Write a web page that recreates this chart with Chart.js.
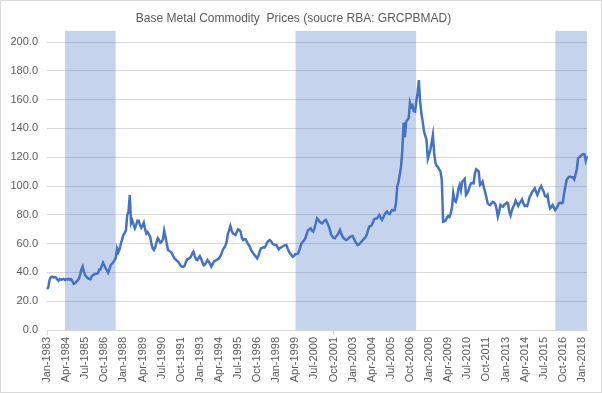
<!DOCTYPE html>
<html>
<head>
<meta charset="utf-8">
<script src="https://cdn.jsdelivr.net/npm/chart.js@4"></script>
<style>
  html, body { margin: 0; padding: 0; background: #fff; }
  #wrap { position: relative; width: 602px; height: 393px; }
  #frame { position: absolute; left: 0; top: 0; width: 600px; height: 391px; border: 1px solid #D9D9D9; pointer-events: none; }
</style>
</head>
<body>
<div id="wrap">
  <canvas id="metalChart" width="602" height="393"></canvas>
  <div id="frame"></div>
</div>
<script>
// Serie mensile, da Jan-1983 a May-2018
const startYear = 1983;
const monthNames = ['Jan', 'Feb', 'Mar', 'Apr', 'May', 'Jun', 'Jul', 'Aug', 'Sep', 'Oct', 'Nov', 'Dec'];

const prices = [
  28.5, 29.5, 34.7, 36.6, 37.0, 36.5, 36.8, 36.4, 35.2, 34.2, 35.4, 35.0,   // 1983
  35.2, 35.5, 34.8, 35.3, 35.0, 35.6, 34.9, 35.2, 33.8, 32.0, 32.4, 33.5,   // 1984
  34.2, 35.5, 38.5, 42.0, 44.0, 40.5, 38.0, 37.0, 36.0, 35.5, 35.2, 37.0,   // 1985
  38.0, 38.5, 39.0, 39.0, 39.5, 42.0, 42.0, 44.5, 46.8, 45.0, 43.0, 41.5,   // 1986
  39.8, 42.0, 45.0, 46.0, 47.0, 48.6, 50.0, 56.7, 54.0, 56.0, 60.0, 63.0,   // 1987
  66.0, 67.5, 69.4, 79.8, 82.0, 93.8, 74.0, 76.0, 73.0, 70.6, 73.0, 75.9,   // 1988
  75.9, 73.0, 71.0, 72.5, 74.5, 70.0, 67.0, 68.0, 66.5, 64.8, 60.0, 56.7,   // 1989
  55.6, 57.5, 61.0, 63.7, 62.5, 60.6, 61.3, 63.0, 69.0, 65.0, 60.0, 55.6,   // 1990
  55.0, 54.4, 53.5, 51.5, 50.0, 49.0, 48.0, 47.5, 46.0, 44.5, 44.0, 44.0,   // 1991
  44.5, 47.0, 49.0, 49.5, 49.8, 51.0, 53.0, 54.4, 51.5, 49.0, 48.5, 50.0,   // 1992
  51.3, 49.5, 47.0, 45.0, 45.5, 47.0, 48.6, 47.5, 46.0, 44.0, 45.5, 47.5,   // 1993
  48.0, 48.5, 49.0, 49.8, 51.0, 53.0, 55.6, 57.0, 58.3, 61.0, 67.0, 69.0,   // 1994
  72.2, 69.0, 67.0, 66.5, 66.0, 68.0, 70.0, 69.5, 68.4, 64.0, 62.5, 63.0,   // 1995
  63.0, 61.0, 59.5, 58.3, 56.0, 54.5, 53.2, 52.0, 51.0, 49.8, 51.5, 54.5,   // 1996
  56.7, 57.0, 57.5, 57.4, 59.0, 61.0, 62.0, 62.5, 61.5, 60.0, 59.5, 59.0,   // 1997
  59.0, 57.5, 56.0, 57.0, 57.4, 58.0, 58.5, 59.0, 59.0, 56.5, 54.4, 53.0,   // 1998
  52.0, 50.9, 51.5, 52.8, 52.8, 53.0, 55.0, 58.0, 60.5, 61.3, 62.5, 64.0,   // 1999
  67.0, 69.4, 70.0, 70.6, 69.0, 68.4, 70.6, 74.0, 77.5, 76.5, 75.3, 74.5,   // 2000
  74.0, 75.0, 76.0, 76.4, 74.5, 72.5, 70.0, 66.5, 65.0, 64.0, 63.7, 65.0,   // 2001
  66.0, 67.5, 69.4, 67.0, 65.0, 63.7, 63.0, 62.5, 63.0, 64.0, 64.8, 65.0,   // 2002
  65.3, 63.5, 61.3, 60.0, 59.0, 59.5, 60.5, 61.3, 62.5, 63.5, 64.4, 66.0,   // 2003
  69.0, 71.8, 72.0, 72.9, 75.0, 77.0, 77.5, 77.5, 78.5, 79.8, 78.0, 76.4,   // 2004
  78.0, 80.0, 81.5, 82.2, 81.0, 80.5, 82.0, 83.3, 83.0, 83.3, 88.0, 99.5,   // 2005
  103.0, 108.0, 113.4, 125.0, 144.0, 134.0, 144.7, 146.0, 147.0, 157.9, 155.0, 156.0, // 2006
  152.0, 151.6, 158.5, 165.0, 173.6, 158.0, 150.0, 144.7, 138.0, 135.0, 132.0, 119.0, // 2007
  122.0, 125.0, 130.0, 135.4, 122.7, 116.0, 114.0, 113.0, 111.5, 110.0, 104.0, 75.2,  // 2008
  75.5, 76.0, 78.0, 79.2, 78.5, 81.0, 85.0, 95.0, 90.0, 89.0, 92.0, 98.0,   // 2009
  100.7, 97.0, 103.0, 104.0, 105.0, 93.8, 95.0, 97.0, 100.0, 101.9, 102.0, 101.9, // 2010
  108.8, 111.6, 111.0, 110.0, 100.7, 101.5, 103.0, 99.0, 96.0, 92.0, 88.0, 87.0,  // 2011
  86.8, 88.0, 89.0, 88.5, 87.5, 84.0, 78.7, 82.0, 86.8, 86.0, 85.6, 87.0,   // 2012
  87.5, 88.5, 88.0, 82.0, 79.5, 83.0, 85.6, 87.0, 89.8, 88.0, 86.2, 88.0,   // 2013
  89.0, 90.7, 88.0, 86.2, 86.5, 86.2, 89.0, 92.6, 94.0, 96.0, 97.0, 98.4,   // 2014
  96.0, 93.8, 96.0, 98.5, 100.0, 98.0, 96.0, 93.0, 92.6, 93.8, 88.0, 84.5,  // 2015
  85.5, 86.8, 85.0, 83.3, 84.5, 86.2, 88.0, 88.4, 88.0, 88.4, 95.0, 99.5,   // 2016
  104.2, 105.5, 106.5, 106.5, 106.0, 106.0, 104.6, 108.0, 111.6, 119.2, 120.0, 120.8, // 2017
  121.5, 122.2, 122.0, 117.6, 120.8                                          // 2018
];

// Periodi evidenziati (bande azzurre)
const shadeFrom = ['Mar-1984', 'Apr-1999', 'Apr-2016'];
const shadeTo = ['Jul-1987', 'Mar-2007', 'May-2018'];
const shadeTop = 208;

// Tick asse Y
const yTicks = [0, 20, 40, 60, 80, 100, 120, 140, 160, 180, 200];

// Etichette mensili e tick ogni 15 mesi
const labels = prices.map((v, i) => monthNames[i % 12] + '-' + (startYear + Math.floor(i / 12)));
const tickEvery = 15;

const shade = labels.map(() => null);
shadeFrom.forEach((from, k) => {
  const a = labels.indexOf(from);
  const b = labels.indexOf(shadeTo[k]);
  for (let i = a; i <= b; i++) shade[i] = shadeTop;
});

const textColor = '#595959';
const gridColor = '#D9D9D9';

new Chart(document.getElementById('metalChart'), {
  type: 'line',
  data: {
    labels: labels,
    datasets: [
      {
        label: 'GRCPBMAD',
        data: prices,
        borderColor: '#4472C4',
        borderWidth: 2.5,
        pointRadius: 0,
        tension: 0,
        fill: false,
        order: 0
      },
      {
        label: 'shade',
        data: shade,
        backgroundColor: 'rgba(68, 114, 196, 0.31)',
        borderWidth: 0,
        pointRadius: 0,
        spanGaps: false,
        fill: 'origin',
        order: 1
      }
    ]
  },
  options: {
    responsive: false,
    animation: false,
    layout: { padding: { left: 0, right: 15, top: 0, bottom: 0 } },
    plugins: {
      legend: { display: false },
      tooltip: { enabled: false },
      title: {
        display: true,
        text: 'Base Metal Commodity  Prices (soucre RBA: GRCPBMAD)',
        color: textColor,
        font: { family: 'Liberation Sans', size: 12, weight: 'normal' },
        padding: { top: 11, bottom: 5.1 }
      }
    },
    scales: {
      x: {
        offset: false,
        grid: {
          drawOnChartArea: false,
          drawTicks: true,
          tickLength: 5,
          color: gridColor,
          tickColor: ctx => (ctx.index % tickEvery === 0 ? gridColor : 'rgba(0,0,0,0)')
        },
        border: { display: true, color: gridColor },
        ticks: {
          autoSkip: false,
          minRotation: 90,
          maxRotation: 90,
          padding: 2,
          color: textColor,
          font: { family: 'Liberation Sans', size: 11 },
          callback: function (value, index) {
            return index % tickEvery === 0 ? labels[index] : null;
          }
        },
        afterFit: s => { s.height = 63; }
      },
      y: {
        min: 0,
        max: shadeTop,
        afterBuildTicks: s => { s.ticks = yTicks.map(v => ({ value: v })); },
        grid: { color: gridColor, drawTicks: false },
        border: { display: false },
        ticks: {
          padding: 9,
          color: textColor,
          font: { family: 'Liberation Sans', size: 11 },
          callback: v => v.toFixed(1)
        },
        afterFit: s => { s.width = 47; }
      }
    }
  }
});
</script>
</body>
</html>
